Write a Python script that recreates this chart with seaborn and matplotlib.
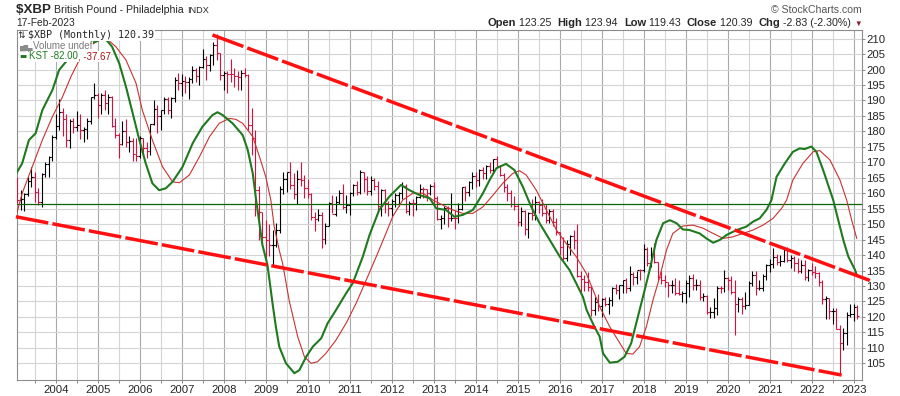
import numpy as np
import pandas as pd
import seaborn as sns
import matplotlib.pyplot as plt

W, H = 900, 396

# monthly bars, Feb 2003 .. Feb 2023
months = pd.period_range("2003-02", "2023-02", freq="M")

opens = [
    164.5, 157.8, 158.0, 159.6, 164.0, 165.2, 160.5, 157.3, 166.2, 169.3, 171.8,
    178.2, 181.9, 186.3, 184.0, 177.2, 183.4, 181.4, 182.1, 180.4, 180.9, 183.3, 191.0,
    191.9, 188.4, 191.9, 189.1, 191.0, 181.9, 179.0, 175.8, 180.2, 176.5, 176.8, 172.6,
    172.0, 177.9, 174.5, 173.6, 182.4, 187.1, 185.0, 186.9, 190.4, 187.0, 190.9, 196.6,
    195.8, 196.2, 196.1, 196.8, 200.0, 197.8, 200.8, 203.3, 201.5, 204.6, 208.0, 205.5,
    198.4, 198.8, 198.6, 198.5, 197.8, 197.6, 199.0, 198.2, 182.0, 178.0, 161.1, 153.8,
    145.9, 144.9, 143.2, 143.4, 148.0, 161.5, 164.6, 167.0, 162.7, 159.8, 164.5, 164.2,
    161.7, 159.8, 152.3, 151.8, 153.0, 145.2, 149.5, 156.8, 153.4, 157.3, 160.2, 155.7,
    156.1, 160.2, 162.6, 160.4, 167.0, 164.6, 160.6, 164.3, 162.5, 155.9, 160.9, 156.9,
    155.3, 157.6, 159.4, 160.0, 162.4, 154.1, 156.9, 156.8, 158.7, 161.5, 161.3, 160.2,
    162.5, 158.5, 151.7, 151.9, 155.3, 151.9, 152.1, 152.0, 155.0, 161.9, 160.3, 163.7,
    165.6, 164.4, 167.5, 166.7, 168.8, 167.5, 171.0, 168.8, 166.0, 162.1, 160.0, 156.4,
    155.8, 150.6, 154.4, 148.4, 153.5, 152.9, 157.2, 156.2, 153.5, 151.3, 154.3, 150.6,
    147.4, 142.5, 139.2, 143.7, 146.1, 144.8, 133.1, 132.4, 131.3, 129.7, 122.4, 124.7,
    123.4, 125.8, 124.1, 125.6, 129.4, 128.8, 130.2, 132.0, 129.3, 134.0, 132.8, 135.3,
    135.1, 142.0, 137.6, 140.3, 137.7, 133.0, 132.0, 131.2, 130.2, 130.4, 127.6, 127.5,
    127.6, 131.1, 132.6, 130.3, 130.4, 126.3, 126.9, 121.6, 121.6, 123.0, 129.5, 129.3,
    132.6, 132.1, 128.1, 124.2, 125.9, 123.5, 123.9, 130.9, 133.7, 129.2, 129.4, 133.3,
    136.7, 137.0, 139.3, 137.8, 138.2, 142.2, 138.3, 139.0, 137.5, 134.7, 136.8, 133.0,
    135.3, 134.5, 134.1, 131.4, 125.7, 126.0, 121.8, 121.8, 116.2, 111.6, 114.8, 120.6,
    120.9, 123.25,
]
highs = [
    165.3, 161.0, 160.0, 165.3, 168.6, 167.0, 161.6, 166.6, 170.2, 172.0, 178.9,
    185.5, 190.5, 187.5, 185.5, 184.0, 184.5, 186.5, 185.5, 181.5, 184.5, 191.0, 195.5,
    192.5, 192.5, 193.5, 192.0, 191.5, 184.5, 179.5, 183.5, 184.0, 178.5, 178.0, 178.0,
    178.5, 178.0, 176.5, 182.5, 190.0, 188.5, 187.0, 191.0, 191.0, 191.0, 197.5, 199.0,
    198.5, 198.0, 197.5, 201.0, 200.5, 201.0, 206.5, 204.5, 205.0, 209.0, 211.6, 205.5,
    199.5, 199.5, 203.5, 200.5, 199.5, 200.0, 200.5, 198.5, 187.5, 180.5, 162.5, 154.0,
    151.3, 150.0, 148.0, 150.5, 162.5, 167.0, 167.0, 170.0, 166.5, 167.5, 170.0, 166.0,
    164.6, 160.0, 154.0, 155.0, 154.0, 150.5, 157.2, 159.5, 159.0, 161.0, 163.0, 159.5,
    160.5, 163.0, 164.0, 167.5, 167.0, 165.5, 165.5, 165.0, 164.0, 161.5, 161.5, 157.5,
    158.0, 160.0, 160.5, 163.5, 163.0, 157.5, 158.0, 159.0, 163.0, 162.0, 161.5, 163.0,
    163.5, 159.0, 153.0, 156.0, 156.0, 160.0, 154.5, 157.0, 162.0, 162.5, 164.0, 167.0,
    166.8, 168.0, 168.5, 169.0, 170.0, 171.0, 171.9, 169.0, 166.5, 163.0, 161.0, 159.0,
    156.5, 155.5, 154.5, 154.0, 158.0, 159.0, 157.5, 158.0, 156.5, 155.0, 155.0, 152.0,
    147.5, 146.0, 145.0, 146.5, 148.0, 150.2, 134.8, 133.5, 134.5, 130.0, 126.5, 127.5,
    126.0, 126.5, 126.5, 129.8, 130.5, 130.4, 132.0, 132.7, 136.5, 134.5, 135.0, 135.5,
    143.5, 142.5, 142.5, 143.8, 137.9, 134.7, 133.6, 131.2, 132.0, 132.6, 131.8, 128.4,
    132.1, 133.6, 133.8, 132.4, 131.8, 127.8, 127.2, 123.2, 126.0, 130.1, 130.1, 135.1,
    132.8, 133.1, 132.0, 126.5, 126.5, 128.1, 131.7, 134.8, 134.8, 131.8, 134.0, 137.0,
    138.7, 142.4, 140.2, 140.1, 142.2, 142.5, 140.1, 139.8, 139.1, 138.3, 138.3, 135.4,
    137.5, 136.4, 134.4, 131.9, 126.7, 126.2, 122.9, 122.9, 117.4, 116.4, 121.5, 124.2,
    124.2, 123.94,
]
lows = [
    156.7, 154.6, 154.3, 159.0, 162.1, 157.3, 156.2, 155.6, 165.3, 165.3, 170.5,
    177.5, 180.5, 178.5, 175.0, 174.5, 179.5, 180.0, 177.5, 176.5, 177.5, 182.5, 190.5,
    184.5, 185.5, 187.0, 185.5, 181.5, 178.0, 171.5, 175.5, 175.0, 173.5, 170.5, 170.5,
    171.5, 172.5, 171.5, 172.5, 182.0, 179.5, 180.5, 185.5, 185.5, 184.5, 189.5, 193.5,
    191.5, 192.5, 190.5, 195.5, 196.0, 195.0, 200.5, 196.5, 199.5, 201.5, 203.0, 196.5,
    193.5, 192.5, 196.0, 194.5, 193.5, 193.5, 197.5, 180.5, 172.5, 152.5, 145.0, 144.5,
    137.3, 139.8, 136.8, 142.7, 147.0, 159.8, 160.5, 161.5, 158.0, 156.5, 162.5, 158.5,
    158.5, 151.5, 147.8, 151.0, 142.3, 143.5, 149.3, 153.5, 152.8, 156.5, 155.0, 153.5,
    153.0, 159.0, 159.5, 159.8, 160.5, 159.5, 159.5, 161.0, 153.5, 152.5, 153.5, 152.5,
    152.5, 155.5, 156.0, 158.0, 153.5, 153.0, 152.5, 154.5, 158.5, 158.5, 157.5, 159.5,
    156.5, 151.5, 148.5, 150.0, 149.0, 151.0, 148.5, 150.5, 154.5, 157.5, 159.0, 161.5,
    162.0, 162.5, 164.5, 164.5, 166.5, 166.5, 168.5, 165.5, 160.5, 157.5, 155.5, 154.5,
    149.5, 149.5, 146.5, 145.5, 151.5, 151.5, 153.5, 152.5, 150.5, 150.5, 149.5, 146.5,
    140.0, 138.5, 138.0, 140.0, 142.0, 133.0, 128.0, 128.5, 128.5, 120.3, 120.5, 122.0,
    120.0, 123.5, 121.1, 123.5, 127.5, 125.9, 127.9, 127.7, 128.5, 130.3, 130.5, 132.0,
    134.5, 136.5, 136.0, 137.5, 132.0, 130.6, 129.6, 126.6, 127.9, 127.1, 127.2, 124.8,
    124.5, 126.6, 128.6, 128.7, 125.6, 125.1, 121.0, 119.6, 119.6, 120.6, 127.7, 128.0,
    128.7, 127.3, 114.0, 121.6, 120.8, 122.5, 123.9, 130.0, 127.0, 128.6, 128.5, 131.9,
    134.5, 135.7, 136.7, 136.6, 137.9, 137.9, 135.7, 135.0, 134.1, 134.3, 131.9, 131.6,
    133.6, 132.7, 130.0, 124.1, 119.3, 119.3, 117.6, 116.0, 101.5, 109.3, 111.0, 119.9,
    118.6, 119.43,
]
closes = [
    157.8, 158.0, 159.6, 164.0, 165.2, 160.5, 157.3, 166.2, 169.3, 171.8, 178.2,
    181.9, 186.3, 184.0, 177.2, 183.4, 181.4, 182.1, 180.4, 180.9, 183.3, 191.0, 191.9,
    188.4, 191.9, 189.1, 191.0, 181.9, 179.0, 175.8, 180.2, 176.5, 176.8, 172.6, 172.0,
    177.9, 174.5, 173.6, 182.4, 187.1, 185.0, 186.9, 190.4, 187.0, 190.9, 196.6, 195.8,
    196.2, 196.1, 196.8, 200.0, 197.8, 200.8, 203.3, 201.5, 204.6, 208.0, 205.5, 198.4,
    198.8, 198.6, 198.5, 197.8, 197.6, 199.0, 198.2, 182.0, 178.0, 161.1, 153.8, 145.9,
    144.9, 143.2, 143.4, 148.0, 161.5, 164.6, 167.0, 162.7, 159.8, 164.5, 164.2, 161.7,
    159.8, 152.3, 151.8, 153.0, 145.2, 149.5, 156.8, 153.4, 157.3, 160.2, 155.7, 156.1,
    160.2, 162.6, 160.4, 167.0, 164.6, 160.6, 164.3, 162.5, 155.9, 160.9, 156.9, 155.3,
    157.6, 159.4, 160.0, 162.4, 154.1, 156.9, 156.8, 158.7, 161.5, 161.3, 160.2, 162.5,
    158.5, 151.7, 151.9, 155.3, 151.9, 152.1, 152.0, 155.0, 161.9, 160.3, 163.7, 165.6,
    164.4, 167.5, 166.7, 168.8, 167.5, 171.0, 168.8, 166.0, 162.1, 160.0, 156.4, 155.8,
    150.6, 154.4, 148.4, 153.5, 152.9, 157.2, 156.2, 153.5, 151.3, 154.3, 150.6, 147.4,
    142.5, 139.2, 143.7, 146.1, 144.8, 133.1, 132.4, 131.3, 129.7, 122.4, 124.7, 123.4,
    125.8, 124.1, 125.6, 129.4, 128.8, 130.2, 132.0, 129.3, 134.0, 132.8, 135.3, 135.1,
    142.0, 137.6, 140.3, 137.7, 133.0, 132.0, 131.2, 130.2, 130.4, 127.6, 127.5, 127.6,
    131.1, 132.6, 130.3, 130.4, 126.3, 126.9, 121.6, 121.6, 123.0, 129.5, 129.3, 132.6,
    132.1, 128.1, 124.2, 125.9, 123.5, 123.9, 130.9, 133.7, 129.2, 129.4, 133.3, 136.7,
    137.0, 139.3, 137.8, 138.2, 142.2, 138.3, 139.0, 137.5, 134.7, 136.8, 133.0, 135.3,
    134.5, 134.1, 131.4, 125.7, 126.0, 121.8, 121.8, 116.2, 111.6, 114.8, 120.6, 120.9,
    123.22, 120.39,
]

# KST and its signal line in price-axis units
kst_t = [2003.06, 2003.20, 2003.36, 2003.52, 2003.68, 2003.92, 2004.08, 2004.24, 2004.50, 2004.75,
         2004.95, 2005.10, 2005.19, 2005.34, 2005.51, 2005.67, 2005.83, 2005.99, 2006.14, 2006.30,
         2006.46, 2006.62, 2006.78, 2007.02, 2007.26, 2007.49, 2007.73, 2007.85, 2007.97, 2008.21,
         2008.45, 2008.57, 2008.69, 2008.77, 2008.92, 2009.04, 2009.16, 2009.24, 2009.32, 2009.48,
         2009.68, 2009.80, 2009.96, 2010.12, 2010.32, 2010.47, 2010.67, 2010.91, 2011.07, 2011.31,
         2011.47, 2011.70, 2011.94, 2012.22, 2012.42, 2012.66, 2012.90, 2013.06, 2013.29, 2013.49,
         2013.69, 2013.93, 2014.17, 2014.33, 2014.49, 2014.72, 2014.92, 2015.12, 2015.32, 2015.52,
         2015.76, 2016.00, 2016.23, 2016.39, 2016.55, 2016.64, 2016.80, 2016.95, 2017.03, 2017.19,
         2017.38, 2017.54, 2017.70, 2017.86, 2017.98, 2018.14, 2018.30, 2018.46, 2018.62, 2018.78,
         2018.93, 2019.09, 2019.33, 2019.49, 2019.65, 2019.81, 2019.97, 2020.21, 2020.44, 2020.60,
         2020.76, 2020.92, 2021.04, 2021.16, 2021.36, 2021.55, 2021.71, 2021.83, 2021.99, 2022.11,
         2022.27, 2022.51, 2022.63, 2022.75, 2022.87, 2023.03, 2023.07]
kst_v = [166.4, 169.7, 177.2, 179.4, 186.9, 193.4, 199.9, 202.5, 206.0, 208.2,
         209.0, 210.0, 209.8, 207.4, 202.0, 194.5, 185.9, 177.2, 169.7, 163.2,
         161.0, 161.6, 163.7, 168.6, 176.2, 181.5, 185.3, 186.2, 185.3, 182.6,
         178.8, 174.0, 166.4, 157.8, 143.3, 136.8, 124.4, 116.8, 110.4, 105.0,
         101.8, 102.8, 107.1, 110.4, 113.1, 117.9, 122.2, 127.6, 130.9, 139.5,
         146.5, 154.6, 158.9, 162.7, 161.0, 159.4, 158.4, 155.1, 154.6, 152.4,
         153.0, 154.6, 160.0, 164.3, 168.1, 169.5, 167.5, 162.1, 155.6, 150.3,
         144.9, 139.5, 135.2, 130.9, 126.5, 122.2, 117.5, 113.6, 108.2, 105.2,
         105.5, 107.1, 111.5, 120.1, 126.5, 135.2, 144.9, 150.3, 151.3, 150.3,
         148.3, 148.1, 147.0, 145.4, 144.0, 144.9, 146.5, 148.1, 149.2, 150.8,
         151.9, 154.6, 157.8, 165.3, 169.7, 173.4, 174.5, 174.3, 175.1, 173.4,
         167.5, 157.8, 151.3, 144.9, 139.5, 135.2, 133.6]

sig_t = [2003.05, 2003.20, 2003.44, 2003.68, 2003.92, 2004.16, 2004.36, 2004.56, 2004.79, 2005.03,
         2005.27, 2005.43, 2005.67, 2005.91, 2006.06, 2006.30, 2006.54, 2006.78, 2006.94, 2007.18,
         2007.42, 2007.66, 2007.89, 2008.13, 2008.29, 2008.45, 2008.69, 2008.85, 2009.00, 2009.12,
         2009.20, 2009.32, 2009.40, 2009.56, 2009.76, 2009.92, 2010.08, 2010.23, 2010.43, 2010.67,
         2010.91, 2011.15, 2011.39, 2011.63, 2011.86, 2012.02, 2012.26, 2012.50, 2012.74, 2012.98,
         2013.21, 2013.45, 2013.69, 2013.93, 2014.17, 2014.41, 2014.64, 2014.88, 2015.04, 2015.20,
         2015.44, 2015.68, 2015.92, 2016.15, 2016.39, 2016.63, 2016.87, 2016.95, 2017.19, 2017.43,
         2017.58, 2017.74, 2017.90, 2018.06, 2018.22, 2018.38, 2018.54, 2018.69, 2018.93, 2019.17,
         2019.41, 2019.65, 2019.89, 2020.12, 2020.36, 2020.60, 2020.84, 2021.08, 2021.28, 2021.40,
         2021.55, 2021.79, 2022.03, 2022.19, 2022.43, 2022.67, 2022.83, 2022.95, 2023.07]
sig_v = [152.4, 160.0, 168.6, 177.2, 184.8, 191.2, 197.7, 203.1, 207.4, 209.6,
         209.3, 207.4, 203.1, 195.6, 186.9, 177.2, 168.6, 163.7, 163.4, 165.9,
         171.8, 178.3, 182.6, 184.2, 183.9, 182.6, 178.3, 171.8, 165.3, 157.8,
         149.2, 141.6, 137.3, 125.1, 113.6, 107.1, 105.0, 105.5, 108.2, 112.5,
         117.9, 124.4, 131.9, 139.5, 147.0, 152.4, 157.8, 160.0, 160.0, 157.8,
         156.2, 154.6, 153.5, 153.5, 155.6, 159.4, 163.2, 166.4, 167.3, 165.9,
         161.0, 154.6, 148.1, 143.8, 139.5, 134.1, 126.1, 123.3, 116.8, 111.5,
         108.2, 108.0, 110.4, 116.8, 125.5, 133.0, 141.6, 147.0, 149.4, 149.7,
         148.7, 147.0, 145.4, 145.9, 147.0, 148.1, 149.7, 151.9, 155.1, 157.8,
         164.3, 169.7, 173.4, 173.8, 170.8, 164.3, 157.8, 151.3, 145.4]

# hand-drawn channel lines and the flat reference line
upper_t = [2007.73, 2023.46]
upper_v = [211.2, 131.4]
lower_t = [2003.05, 2022.71]
lower_v = [152.4, 101.2]
flat_level = 156.4

year_ticks = list(range(2004, 2024))
price_ticks = list(range(105, 215, 5))

UP = "#000000"
DOWN = "#d6103c"

sns.set_theme(style="white")
plt.rcParams["font.family"] = ["Liberation Sans", "DejaVu Sans"]

fig = plt.figure(figsize=(W / 100, H / 100), dpi=100)
ax = fig.add_axes([16.7 / W, 1 - 380 / H, (862.3 - 16.7) / W, 350 / H])

t = months.year.values + (months.month.values - 1) / 12.0
o, hi, lo, c = map(np.array, (opens, highs, lows, closes))
prev = np.r_[o[0], c[:-1]]
cols = np.where(c >= prev, UP, DOWN)

tick = 1.7 / 42.0
ax.vlines(t, lo, hi, colors=cols, lw=0.8, zorder=3)
ax.hlines(o, t - tick, t, colors=cols, lw=0.8, zorder=3)
ax.hlines(c, t, t + tick, colors=cols, lw=0.8, zorder=3)

ax.axhline(flat_level, color="#0a640a", lw=0.9, zorder=4)

kst = pd.DataFrame({"t": kst_t, "v": kst_v})
sig = pd.DataFrame({"t": sig_t, "v": sig_v})
sns.lineplot(data=sig, x="t", y="v", ax=ax, color="#c83232", lw=0.8, estimator=None, zorder=5)
sns.lineplot(data=kst, x="t", y="v", ax=ax, color="#1f7a1f", lw=1.5, estimator=None, zorder=6)

for xs, ys in ((upper_t, upper_v), (lower_t, lower_v)):
    ax.plot(xs, ys, color="#ff1010", lw=2.5, dashes=(9.5, 1.2), solid_capstyle="butt",
            dash_capstyle="butt", clip_on=False, zorder=7)

t_left = 2003 + 1 / 12 - 0.6 / 42
ax.set_xlim(t_left, t_left + 845.6 / 42)
ax.set_ylim(99.6, 212.8)

ax.set_xticks(year_ticks)
ax.set_xticklabels([str(y) for y in year_ticks])
ax.set_xticks([y + 0.5 for y in range(2003, 2023)], minor=True)
ax.set_yticks(price_ticks)
ax.yaxis.tick_right()
ax.set_xlabel("")
ax.set_ylabel("")

ax.grid(True, which="major", axis="x", color="#a9a9a9", lw=0.8)
ax.grid(True, which="minor", axis="x", color="#d4d4d4", lw=0.8)
ax.grid(True, which="major", axis="y", color="#d4d4d4", lw=0.8)
ax.set_axisbelow(True)
ax.tick_params(axis="x", which="both", length=2.5, width=0.7, color="#888888",
               pad=1.0, labelsize=8.2, bottom=True)
ax.tick_params(axis="y", length=2, width=0.7, color="#888888", pad=1.0, labelsize=8.2, right=True)
for s in ax.spines.values():
    s.set_color("#8c8c8c")
    s.set_linewidth(0.8)


def runs(x, y, parts, ha="left"):
    r = fig.canvas.get_renderer()
    made = []
    for s, kw in parts:
        made.append(fig.text(0, y, s, va="baseline", **kw))
    widths = [m.get_window_extent(renderer=r).width for m in made]
    cur = x - sum(widths) if ha == "right" else x
    for m, w in zip(made, widths):
        m.set_x(cur / W)
        cur += w


def fy(y):
    return 1 - y / H


# header
runs(16.0, fy(13.3), [
    ("$XBP ", dict(fontsize=9.6, fontweight="bold")),
    ("British Pound - Philadelphia ", dict(fontsize=7.6)),
    ("INDX", dict(fontsize=6.6)),
])
fig.text(16.5 / W, fy(26), "17-Feb-2023", fontsize=7.4, va="baseline")
fig.text(861.7 / W, fy(12.7), "\u00a9 StockCharts.com", fontsize=7.6, color="#555555",
         ha="right", va="baseline")
b = dict(fontsize=8.0, fontweight="bold")
n = dict(fontsize=7.7)
runs(861.7, fy(26), [
    ("Open", b), (" 123.25  ", n), ("High", b), (" 123.94  ", n), ("Low", b), (" 119.43  ", n),
    ("Close", b), (" 120.39  ", n), ("Chg", b), (" -2.83 (-2.30%) ", n),
    ("\u25bc", dict(fontsize=5.5, color="#8b1a2b")),
], ha="right")

# in-chart legend
box = dict(facecolor="white", edgecolor="none", pad=0.25)
mono = dict(family="DejaVu Sans Mono", fontsize=7.2, bbox=box)
lg = dict(fontsize=7.0, bbox=box)
runs(18.0, fy(38.3), [
    ("\u21c5 ", dict(family="DejaVu Sans", fontsize=6.5, bbox=box)),
    ("$XBP (Monthly) 120.39", mono),
])
runs(19.5, fy(49.0), [
    ("\u2587\u2588\u2585", dict(lg, family="DejaVu Sans", fontsize=4.2, color="#8a8a8a")),
    ("Volume undef", dict(lg, color="#7a7a7a")),
])
runs(19.5, fy(59.3), [
    ("\u25ac ", dict(lg, family="DejaVu Sans", fontsize=5.5, color="#1f7a1f")),
    ("KST -82.00", dict(lg, color="#1f7a1f")),
    (", -37.67", dict(lg, color="#b01010")),
])

fig.savefig("out.png", dpi=100)
